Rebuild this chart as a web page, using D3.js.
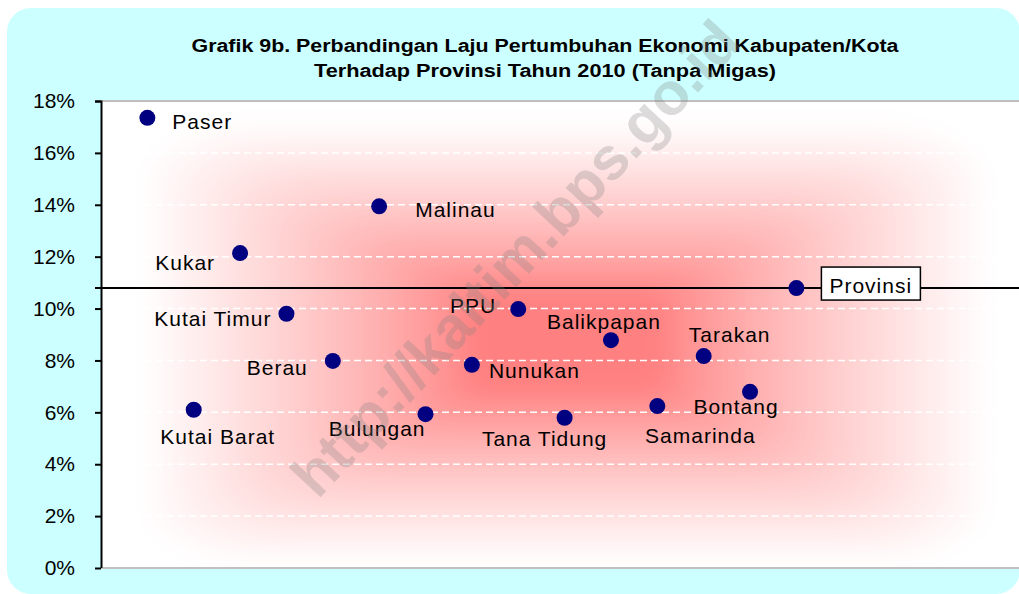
<!DOCTYPE html>
<html>
<head>
<meta charset="utf-8">
<script src="https://cdn.jsdelivr.net/npm/d3@7"></script>
<style>
  body { margin: 0; background: #fff; }
  svg { display: block; font-family: "Liberation Sans", Arial, sans-serif; }
</style>
</head>
<body>
<svg id="chart"></svg>
<script>
// values (laju pertumbuhan ekonomi 2010, tanpa migas, %)
var regions = ["Paser", "Kutai Barat", "Kukar", "Kutai Timur", "Berau", "Malinau",
  "Bulungan", "Nunukan", "PPU", "Tana Tidung", "Balikpapan", "Samarinda",
  "Tarakan", "Bontang", "Provinsi"];
var growth = [17.35, 6.10, 12.14, 9.80, 7.98, 13.94,
  5.93, 7.83, 9.98, 5.79, 8.78, 6.24,
  8.17, 6.79, 10.79];
var yTicks = [0, 2, 4, 6, 8, 10, 12, 14, 16, 18];
var titleLines = ["Grafik 9b. Perbandingan Laju Pertumbuhan Ekonomi Kabupaten/Kota",
  "Terhadap Provinsi Tahun 2010 (Tanpa Migas)"];
var watermark = "http://kaltim.bps.go.id";

// label placement around each dot: [anchor, dx, dy]
var labelPos = [
  ["start", 25, 4], ["middle", 24, 27], ["end", -25, 9], ["end", -15, 5],
  ["end", -25, 6], ["start", 36, 3], ["end", 0, 14], ["start", 17, 6],
  ["end", -22, -4], ["middle", -20, 21], ["middle", -7, -19], ["middle", 43, 29],
  ["middle", 26, -22], ["middle", -14, 15], ["start", 33, -3]
];

var W = 1019, H = 594;
var margin = {top: 101, right: 0, bottom: 26, left: 101};
var width = W - margin.left - margin.right,
    height = H - margin.top - margin.bottom;

var svg = d3.select("#chart").attr("width", W).attr("height", H);

var defs = svg.append("defs");
defs.append("filter").attr("id", "soft")
    .attr("x", "-20%").attr("y", "-20%").attr("width", "140%").attr("height", "140%")
  .append("feGaussianBlur").attr("stdDeviation", 12);

// outer cyan panel
svg.append("rect")
    .attr("x", 7).attr("y", 8)
    .attr("width", 1013).attr("height", 586)
    .attr("rx", 24).attr("ry", 24)
    .attr("fill", "#ccffff");

// title
svg.append("g").selectAll("text")
    .data(titleLines)
  .enter().append("text")
    .attr("x", 545)
    .attr("y", function(d, i) { return 52 + i * 25; })
    .attr("text-anchor", "middle")
    .attr("font-size", 18)
    .attr("font-weight", "bold")
    .attr("textLength", function(d, i) { return i == 0 ? 707 : 462; })
    .attr("lengthAdjust", "spacingAndGlyphs")
    .text(function(d) { return d; });

var x = d3.scaleLinear().domain([0, 20]).range([0, 20 * 46.36]);
var y = d3.scaleLinear().domain([0, 18]).range([height, 0]);

var g = svg.append("g")
    .attr("transform", "translate(" + margin.left + "," + margin.top + ")");

g.append("clipPath").attr("id", "plotclip")
  .append("rect").attr("width", width).attr("height", height);

var plot = g.append("g").attr("clip-path", "url(#plotclip)");

plot.append("rect").attr("width", width).attr("height", height).attr("fill", "#fff");

// "from centre" fill, done as nested rounded rects then softened
var pw = 930, cx = pw / 2, cy = height / 2 + 8;
var hw = pw / 2, hh = height / 2 + 8;
var fade = d3.interpolateRgb("#ff8080", "#ffffff");
plot.append("g").attr("filter", "url(#soft)")
  .selectAll("rect")
    .data(d3.range(1, 0, -0.01))
  .enter().append("rect")
    .attr("x", function(t) { return cx - hw * t; })
    .attr("y", function(t) { return cy - hh * t; })
    .attr("width", function(t) { return 2 * hw * t + 0.5; })
    .attr("height", function(t) { return 2 * hh * t + 0.5; })
    .attr("rx", function(t) { return hw * t * 0.25; })
    .attr("ry", function(t) { return hh * t * 0.25; })
    .attr("fill", function(t) {
      var s = Math.max(0, Math.min(1, (t - 0.2) / 0.72));
      return fade(Math.pow(s, 0.8));
    });

// dashed white gridlines
plot.append("g").selectAll("line")
    .data(yTicks.filter(function(d) { return d > 0 && d < 18; }))
  .enter().append("line")
    .attr("x1", 0).attr("x2", width)
    .attr("y1", function(d) { return y(d); })
    .attr("y2", function(d) { return y(d); })
    .attr("stroke", "#fff")
    .attr("stroke-width", 1.5)
    .attr("stroke-dasharray", "7,4");

// plot area top/bottom border
g.selectAll("line.border")
    .data([0, height])
  .enter().append("line")
    .attr("class", "border")
    .attr("x1", 0).attr("x2", width)
    .attr("y1", function(d) { return d; }).attr("y2", function(d) { return d; })
    .attr("stroke", "#c0c0c0")
    .attr("stroke-width", 2);

// provinsi reference line
var prov = growth[growth.length - 1];
g.append("line")
    .attr("x1", -6).attr("x2", width)
    .attr("y1", y(prov)).attr("y2", y(prov))
    .attr("stroke", "#000")
    .attr("stroke-width", 2);

// y axis
var yAxis = d3.axisLeft(y)
    .tickValues(yTicks)
    .tickSize(6)
    .tickPadding(20)
    .tickFormat(function(d) { return d + "%"; });

var ya = g.append("g").attr("class", "y axis").call(yAxis);
ya.select(".domain").attr("stroke", "#000").attr("stroke-width", 2).attr("d", "M-6,0.5H0.5V" + height);
ya.selectAll(".tick line").attr("stroke", "#000").attr("stroke-width", 2);
ya.selectAll(".tick text")
    .attr("font-size", 21)
    .attr("font-family", "Liberation Sans, Arial, sans-serif")
    .attr("fill", "#000");

// dots
g.append("g").selectAll("circle")
    .data(growth)
  .enter().append("circle")
    .attr("cx", function(d, i) { return x(i + 1); })
    .attr("cy", function(d) { return y(d); })
    .attr("r", 8)
    .attr("fill", "#000080");

// provinsi label box
var pl = labelPos[labelPos.length - 1];
g.append("rect")
    .attr("x", x(regions.length) + pl[1] - 8)
    .attr("y", y(prov) + pl[2] - 18)
    .attr("width", 99).attr("height", 33)
    .attr("fill", "#fff")
    .attr("stroke", "#000")
    .attr("stroke-width", 1.5);

// labels
g.append("g").selectAll("text")
    .data(regions)
  .enter().append("text")
    .attr("x", function(d, i) { return x(i + 1) + labelPos[i][1]; })
    .attr("y", function(d, i) { return y(growth[i]) + labelPos[i][2]; })
    .attr("dy", "0.36em")
    .attr("text-anchor", function(d, i) { return labelPos[i][0]; })
    .attr("font-size", 21)
    .attr("letter-spacing", 1)
    .attr("fill", "#000")
    .text(function(d) { return d; });

// watermark
svg.append("text")
    .attr("transform", "translate(515,258) rotate(-47)")
    .attr("text-anchor", "middle")
    .attr("dy", "0.35em")
    .attr("font-size", 60)
    .attr("font-weight", "bold")
    .attr("fill", "#808080")
    .attr("fill-opacity", 0.28)
    .text(watermark);
</script>
</body>
</html>
